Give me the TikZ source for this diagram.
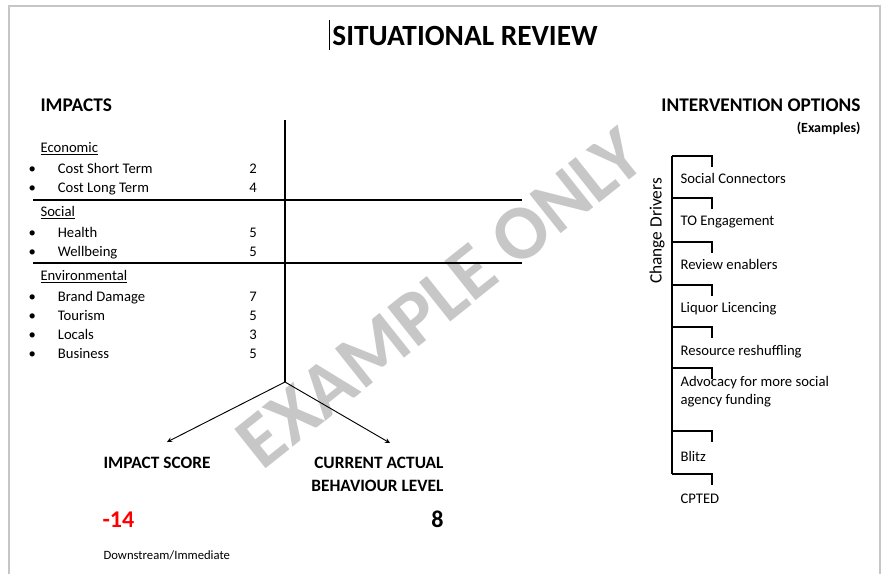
\documentclass[tikz,border=0pt]{standalone}
\usepackage{fontspec}
\setmainfont{Carlito}
\begin{document}
\begin{tikzpicture}[x=0.75pt, y=-0.75pt, >=stealth, line width=0.8pt,
  item/.style={anchor=mid west, inner sep=0pt, font=\fontsize{11}{13}\selectfont},
  score/.style={anchor=mid, inner sep=0pt, font=\fontsize{11}{13}\selectfont},
  heading/.style={inner sep=0pt, font=\bfseries\fontsize{14.5}{17}\selectfont},
  result/.style={inner sep=0pt, align=right, font=\bfseries\fontsize{13}{17.25}\selectfont},
  option/.style={anchor=mid west, inner sep=0pt, align=left, font=\fontsize{11}{13.5}\selectfont}]
\useasboundingbox (0,0) rectangle (884,574);
% page edge and watermark
\draw[gray!45, line width=1.5pt] (9,574) -- (9,6) -- (880,6) -- (880,574);
\node[rotate=38.5, text=black!22, inner sep=0pt, font=\bfseries\fontsize{58}{58}\selectfont] (wm) at (440,298) {EXAMPLE ONLY};
\node[inner sep=0pt, font=\bfseries\fontsize{22}{26}\selectfont] (title) at (465,36) {SITUATIONAL REVIEW};
\draw[line width=0.6pt] (329,20) -- (329,50);
% impacts
\node[heading, anchor=mid west] (impacts) at (40,108) {IMPACTS};
\node[item] (econ) at (40,149) {\underline{Economic}};
\node[item] (cst) at (28,170) {\makebox[22pt][l]{\textbullet}Cost Short Term};
\node[score] (cstv) at (253,170) {2};
\node[item] (clt) at (28,189) {\makebox[22pt][l]{\textbullet}Cost Long Term};
\node[score] (cltv) at (253,189) {4};
\node[item] (soc) at (40,213) {\underline{Social}};
\node[item] (hea) at (28,234) {\makebox[22pt][l]{\textbullet}Health};
\node[score] (heav) at (253,234) {5};
\node[item] (wel) at (28,253) {\makebox[22pt][l]{\textbullet}Wellbeing};
\node[score] (welv) at (253,253) {5};
\node[item] (env) at (40,277) {\underline{Environmental}};
\node[item] (bra) at (28,298) {\makebox[22pt][l]{\textbullet}Brand Damage};
\node[score] (brav) at (253,298) {7};
\node[item] (tou) at (28,317) {\makebox[22pt][l]{\textbullet}Tourism};
\node[score] (touv) at (253,317) {5};
\node[item] (loc) at (28,336) {\makebox[22pt][l]{\textbullet}Locals};
\node[score] (locv) at (253,336) {3};
\node[item] (bus) at (28,355) {\makebox[22pt][l]{\textbullet}Business};
\node[score] (busv) at (253,355) {5};
\coordinate (top) at (285,120);
\coordinate (fork) at (285,382);
\coordinate (leftend) at (167,442);
\coordinate (rightend) at (390,443);
\draw (top) -- (fork);
\draw (33,200) -- (522,200);
\draw (33,263) -- (522,263);
\draw[->, line width=0.7pt] (fork) -- (leftend);
\draw[->, line width=0.7pt] (fork) -- (rightend);
% outcome
\node[result, anchor=mid west] (impscore) at (103,465) {IMPACT SCORE};
\node[result, anchor=north east] (behav) at (444,457) {CURRENT ACTUAL\\BEHAVIOUR LEVEL};
\node[inner sep=0pt, anchor=mid west, text=red, font=\bfseries\fontsize{18}{20}\selectfont] (impval) at (102,524) {-14};
\node[inner sep=0pt, anchor=mid east, font=\bfseries\fontsize{18}{20}\selectfont] (behval) at (444,524) {8};
\node[inner sep=0pt, anchor=mid west, font=\fontsize{9.5}{11}\selectfont] (down) at (103,556) {Downstream/Immediate};
% intervention options
\node[heading, anchor=mid east] (interv) at (861,108) {INTERVENTION OPTIONS};
\node[inner sep=0pt, anchor=mid east, font=\bfseries\fontsize{10.5}{12}\selectfont] (examples) at (861,129) {(Examples)};
\node[inner sep=0pt, rotate=90, font=\fontsize{13}{15}\selectfont] (drivers) at (657,231) {Change Drivers};
\draw (672,156) -- (672,474);
\draw (672,156) -- (712,156) -- (712,167);
\draw (672,198) -- (712,198) -- (712,209);
\draw (672,242) -- (712,242) -- (712,253);
\draw (672,285) -- (712,285) -- (712,296);
\draw (672,327) -- (712,327) -- (712,338);
\draw (672,368) -- (712,368) -- (712,379);
\draw (672,431) -- (712,431) -- (712,442);
\draw (672,474) -- (712,474) -- (712,485);
\node[option] (social) at (680,180) {Social Connectors};
\node[option] (to) at (680,222) {TO Engagement};
\node[option] (review) at (680,266) {Review enablers};
\node[option] (liquor) at (680,309) {Liquor Licencing};
\node[option] (resource) at (680,352) {Resource reshuffling};
\node[option] (advocacy) at (680,401) {Advocacy for more social\\agency funding};
\node[option] (blitz) at (680,458) {Blitz};
\node[option] (cpted) at (680,500) {CPTED};
\end{tikzpicture}
\end{document}
